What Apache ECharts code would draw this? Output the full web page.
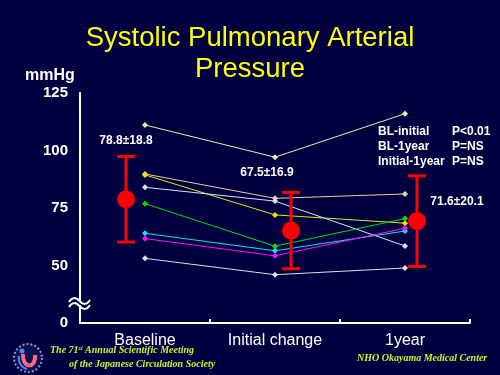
<!DOCTYPE html>
<html>
<head>
<meta charset="utf-8">
<script src="https://cdn.jsdelivr.net/npm/echarts@6/dist/echarts.min.js"></script>
<style>
html,body{margin:0;padding:0;background:#000040;}
#chart{width:500px;height:375px;}
</style>
</head>
<body>
<div id="chart"></div>
<script>
// ---- data ----
const categories = ['Baseline', 'Initial change', '1year'];
const yTicks = [25, 50, 75, 100, 125];            // 25 is drawn as "0" (broken axis)
const yTickLabels = ['0', '50', '75', '100', '125'];

const ptTop     = [111.1, 97.1, 116.0];
const ptTan     = [89.8, 79.2, 81.1];
const ptYellow  = [89.4, 72.0, 68.4];
const ptWhite   = [84.0, 78.0, 58.5];
const ptGreen   = [76.9, 58.4, 70.4];
const ptCyan    = [64.0, 56.4, 65.0];
const ptMagenta = [61.7, 54.2, 66.2];
const ptBottom  = [53.1, 46.0, 48.9];

const meanVals = [78.8, 65.2, 69.3];
const sdVals   = [18.6, 16.6, 19.7];
const meanLabels = ['78.8\u00b118.8', '67.5\u00b116.9', '71.6\u00b120.1'];

const statNames = ['BL-initial', 'BL-1year', 'Initial-1year'];
const statP     = ['P<0.01', 'P=NS', 'P=NS'];

// ---- styling ----
const patients = [
  { d: ptTop, c: '#eeeeaa' },
  { d: ptTan, c: '#e6cfa0' },
  { d: ptYellow, c: '#e8e800' },
  { d: ptWhite, c: '#d8e4f4' },
  { d: ptGreen, c: '#00e000' },
  { d: ptCyan, c: '#00e8f0' },
  { d: ptMagenta, c: '#ff10ff' },
  { d: ptBottom, c: '#e0e0e0' }
];
const meanShift = [-19, 16, 12];         // px offset of mean marks from category centre
const labelOffset = [[0, -16], [-24, -20], [40, 26]];

const font = 'Liberation Sans, Arial, sans-serif';
const chart = echarts.init(document.getElementById('chart'));

const series = patients.map(p => ({
  type: 'line',
  data: p.d,
  symbol: 'diamond',
  symbolSize: 6,
  lineStyle: { color: p.c, width: 1 },
  itemStyle: { color: p.c },
  z: 2,
  silent: true,
  animation: false
}));

series.push({
  type: 'custom',
  z: 5,
  animation: false,
  data: categories.map((c, i) => [i, meanVals[i], sdVals[i]]),
  renderItem: function (params, api) {
    const i = api.value(0), m = api.value(1), s = api.value(2);
    const c = api.coord([i, m]);
    const t = api.coord([i, m + s]);
    const b = api.coord([i, m - s]);
    const x = c[0] + meanShift[i];
    const red = '#ff0000';
    const st = { stroke: red, lineWidth: 3 };
    return {
      type: 'group',
      children: [
        { type: 'line', shape: { x1: x, y1: t[1], x2: x, y2: b[1] }, style: st },
        { type: 'line', shape: { x1: x - 9, y1: t[1], x2: x + 9, y2: t[1] }, style: st },
        { type: 'line', shape: { x1: x - 9, y1: b[1], x2: x + 9, y2: b[1] }, style: st },
        { type: 'circle', shape: { cx: x, cy: c[1], r: 9 }, style: { fill: red } },
        { type: 'text', x: x + labelOffset[i][0], y: t[1] + labelOffset[i][1],
          style: { text: meanLabels[i], fill: '#ffffff', font: 'bold 12px ' + font,
                   align: 'center', verticalAlign: 'middle' } }
      ]
    };
  }
});

const statTexts = [];
statNames.forEach((n, k) => {
  statTexts.push({ type: 'text', left: 378, top: 126 + k * 15,
    style: { text: n, fill: '#ffffff', font: 'bold 12px ' + font } });
  statTexts.push({ type: 'text', left: 452, top: 126 + k * 15,
    style: { text: statP[k], fill: '#ffffff', font: 'bold 12px ' + font } });
});

function wave(y) {
  const st = { stroke: '#ffffff', lineWidth: 2, fill: null };
  return [
    { type: 'bezierCurve', z: 11, shape: { x1: 69, y1: y, cpx1: 72, cpy1: y - 5, cpx2: 76, cpy2: y - 5, x2: 79.5, y2: y - 1 }, style: st },
    { type: 'bezierCurve', z: 11, shape: { x1: 79.5, y1: y - 1, cpx1: 83, cpy1: y + 3, cpx2: 87, cpy2: y + 3, x2: 90, y2: y - 2 }, style: st }
  ];
}

const footColor = '#ccf222';
const serif = 'Liberation Serif, Times New Roman, serif';
const footFont = 'italic bold 10px ' + serif;

chart.setOption({
  backgroundColor: '#000040',
  animation: false,
  grid: { left: 80, right: 30, top: 93, bottom: 52 },
  xAxis: {
    type: 'category',
    data: categories,
    boundaryGap: true,
    axisLine: { lineStyle: { color: '#ffffff', width: 2 } },
    axisTick: { show: true, inside: true, length: 4, lineStyle: { color: '#ffffff', width: 2 } },
    axisLabel: { color: '#ffffff', fontSize: 16, fontFamily: font, margin: 10 },
    splitLine: { show: false }
  },
  yAxis: {
    type: 'value',
    min: 25, max: 125, interval: 25,
    axisLine: { show: true, lineStyle: { color: '#ffffff', width: 2 } },
    axisTick: { show: false },
    splitLine: { show: false },
    axisLabel: {
      color: '#ffffff', fontSize: 15, fontWeight: 'bold', fontFamily: font, margin: 12,
      formatter: function (v) { const k = yTicks.indexOf(v); return k >= 0 ? yTickLabels[k] : ''; }
    }
  },
  series: series,
  graphic: [
    { type: 'text', left: 'center', top: 24,
      style: { text: 'Systolic Pulmonary Arterial', fill: '#ffff00', font: '27.5px ' + font } },
    { type: 'text', left: 'center', top: 55,
      style: { text: 'Pressure', fill: '#ffff00', font: '27.5px ' + font } },
    { type: 'text', left: 25, top: 68,
      style: { text: 'mmHg', fill: '#ffffff', font: 'bold 16px ' + font } },
    // axis break
    { type: 'rect', z: 10, shape: { x: 76, y: 301, width: 8, height: 4 }, style: { fill: '#000040' } },
    ...wave(302),
    ...wave(307),
    ...statTexts,
    // footer
    { type: 'text', left: 50, top: 345,
      style: { rich: { a: { fill: footColor, font: footFont },
                       s: { fill: footColor, font: 'italic bold 6px ' + serif, verticalAlign: 'top' } },
               text: '{a|The 71}{s|st}{a| Annual Scientific Meeting}' } },
    { type: 'text', left: 69, top: 359,
      style: { text: 'of the Japanese Circulation Society', fill: footColor, font: footFont } },
    { type: 'text', left: 357, top: 353,
      style: { text: 'NHO Okayama Medical Center', fill: footColor, font: footFont } },
    // logo
    { type: 'circle', shape: { cx: 28, cy: 358, r: 14 },
      style: { fill: '#101050', stroke: '#9a8fd0', lineWidth: 2, lineDash: [2, 2] } },
    { type: 'bezierCurve', shape: { x1: 23, y1: 354, cpx1: 22, cpy1: 368, cpx2: 36, cpy2: 370, x2: 35, y2: 355 },
      style: { stroke: '#ff6688', lineWidth: 4, fill: null } },
    { type: 'circle', shape: { cx: 22, cy: 351, r: 2.5 }, style: { fill: '#4488ff' } },
    { type: 'bezierCurve', shape: { x1: 19, y1: 356, cpx1: 18, cpy1: 363, cpx2: 22, cpy2: 368, x2: 27, y2: 369 },
      style: { stroke: '#4488ff', lineWidth: 2, fill: null } }
  ]
});
</script>
</body>
</html>
